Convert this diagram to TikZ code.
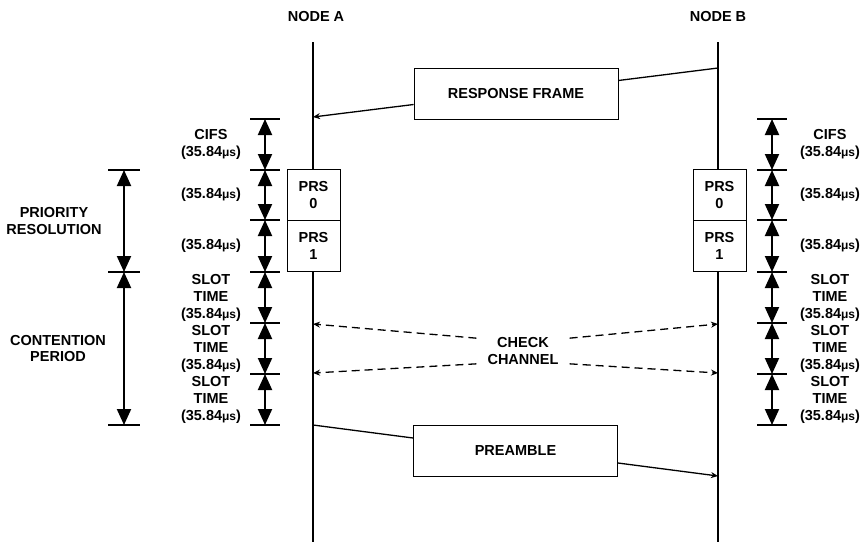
\documentclass[tikz,border=0pt]{standalone}
\usepackage{fontspec}
\setmainfont{Liberation Sans}
\usetikzlibrary{arrows.meta}

\tikzset{
  life/.style={line width=1.9pt},
  framebox/.style={draw, line width=0.9pt, minimum width=204pt, minimum height=51pt},
  prsbox/.style={draw, fill=white, line width=0.9pt, minimum width=53pt, minimum height=51pt, align=center},
  msg/.style={line width=1.3pt},
  msgtip/.style={-{Stealth[length=7pt,width=6pt]}},
  dimarrow/.style={line width=2pt, {Triangle[length=16pt,width=14pt]}-{Triangle[length=16pt,width=14pt]}},
  tick/.style={line width=2pt},
  lbl/.style={align=center, inner sep=0pt},
}
\newcommand{\usval}{(35.84{\fontsize{12}{17}\selectfont μs})}

\begin{document}
\begin{tikzpicture}[x=1pt, y=-1pt, font=\bfseries\fontsize{14.5}{17}\selectfont]
   \useasboundingbox (0,0) rectangle (863,542);
   % lifelines
   \node (nodeA) at (316,17) {NODE A};
   \node (nodeB) at (718,17) {NODE B};
   \coordinate (Atop) at (313,42);
   \coordinate (Abot) at (313,542);
   \coordinate (Btop) at (718,42);
   \coordinate (Bbot) at (718,542);
   \draw[life] (Atop) -- (Abot);
   \draw[life] (Btop) -- (Bbot);

   % response frame
   \node[framebox] (resp) at (516,93.5) {RESPONSE FRAME};
   \coordinate (Bresp) at (718,68);
   \coordinate (Aresp) at (313,117);
   \draw[msg] (Bresp) -- ([yshift=13pt]resp.east);
   \draw[msg, msgtip] ([yshift=-11pt]resp.west) -- (Aresp);

   % priority resolution slots
   \node[prsbox] (prsA0) at (313.5,195) {PRS\\0};
   \node[prsbox] (prsA1) at (313.5,246) {PRS\\1};
   \node[prsbox] (prsB0) at (719.5,195) {PRS\\0};
   \node[prsbox] (prsB1) at (719.5,246) {PRS\\1};

   % check channel
   \node[lbl, inner xsep=11pt, inner ysep=-1pt] (chk) at (523,351) {CHECK\\CHANNEL};
   \coordinate (Achk1) at (313,324);
   \coordinate (Achk2) at (313,373);
   \coordinate (Bchk1) at (718,324);
   \coordinate (Bchk2) at (718,373);
   \draw[msg, dash pattern=on 8pt off 5pt, msgtip] (chk.north west) -- (Achk1);
   \draw[msg, dash pattern=on 8pt off 5pt, msgtip] (chk.south west) -- (Achk2);
   \draw[msg, dash pattern=on 8pt off 5pt, msgtip] (chk.north east) -- (Bchk1);
   \draw[msg, dash pattern=on 8pt off 5pt, msgtip] (chk.south east) -- (Bchk2);

   % preamble
   \node[framebox] (pre) at (515.5,450.5) {PREAMBLE};
   \coordinate (Apre) at (313,425);
   \coordinate (Bpre) at (718,476);
   \draw[msg] (Apre) -- ([yshift=12.5pt]pre.west);
   \draw[msg, msgtip] ([yshift=-12.5pt]pre.east) -- (Bpre);

   % left timing
   \coordinate (l0) at (265,119);
   \coordinate (l1) at (265,170);
   \coordinate (l2) at (265,220);
   \coordinate (l3) at (265,272);
   \coordinate (l4) at (265,323);
   \coordinate (l5) at (265,374);
   \coordinate (l6) at (265,425);
   \foreach \i in {0,...,6}
      \draw[tick] ([xshift=-15pt]l\i) -- ([xshift=15pt]l\i);
   \draw[dimarrow] (l0) -- (l1);
   \draw[dimarrow] (l1) -- (l2);
   \draw[dimarrow] (l2) -- (l3);
   \draw[dimarrow] (l3) -- (l4);
   \draw[dimarrow] (l4) -- (l5);
   \draw[dimarrow] (l5) -- (l6);
   \node[lbl] (lcifs) at (211,144) {CIFS\\\usval};
   \node[lbl] (lprs0) at (211,195) {\usval};
   \node[lbl] (lprs1) at (211,246) {\usval};
   \node[lbl] (lslot1) at (211,297.5) {SLOT\\TIME\\\usval};
   \node[lbl] (lslot2) at (211,348.5) {SLOT\\TIME\\\usval};
   \node[lbl] (lslot3) at (211,399.5) {SLOT\\TIME\\\usval};

   % periods
   \coordinate (p1) at (124,170);
   \coordinate (p2) at (124,272);
   \coordinate (p3) at (124,425);
   \foreach \i in {1,2,3}
      \draw[tick] ([xshift=-16pt]p\i) -- ([xshift=16pt]p\i);
   \draw[dimarrow] (p1) -- (p2);
   \draw[dimarrow] (p2) -- (p3);
   \node[lbl] (prio) at (54,221) {PRIORITY\\RESOLUTION};
   \node[lbl] (cont) at (58,348.5) {CONTENTION\\PERIOD};

   % right timing
   \coordinate (r0) at (772,119);
   \coordinate (r1) at (772,170);
   \coordinate (r2) at (772,220);
   \coordinate (r3) at (772,272);
   \coordinate (r4) at (772,323);
   \coordinate (r5) at (772,374);
   \coordinate (r6) at (772,425);
   \foreach \i in {0,...,6}
      \draw[tick] ([xshift=-15pt]r\i) -- ([xshift=15pt]r\i);
   \draw[dimarrow] (r0) -- (r1);
   \draw[dimarrow] (r1) -- (r2);
   \draw[dimarrow] (r2) -- (r3);
   \draw[dimarrow] (r3) -- (r4);
   \draw[dimarrow] (r4) -- (r5);
   \draw[dimarrow] (r5) -- (r6);
   \node[lbl] (rcifs) at (830,144) {CIFS\\\usval};
   \node[lbl] (rprs0) at (830,195) {\usval};
   \node[lbl] (rprs1) at (830,246) {\usval};
   \node[lbl] (rslot1) at (830,297.5) {SLOT\\TIME\\\usval};
   \node[lbl] (rslot2) at (830,348.5) {SLOT\\TIME\\\usval};
   \node[lbl] (rslot3) at (830,399.5) {SLOT\\TIME\\\usval};
\end{tikzpicture}
\end{document}
